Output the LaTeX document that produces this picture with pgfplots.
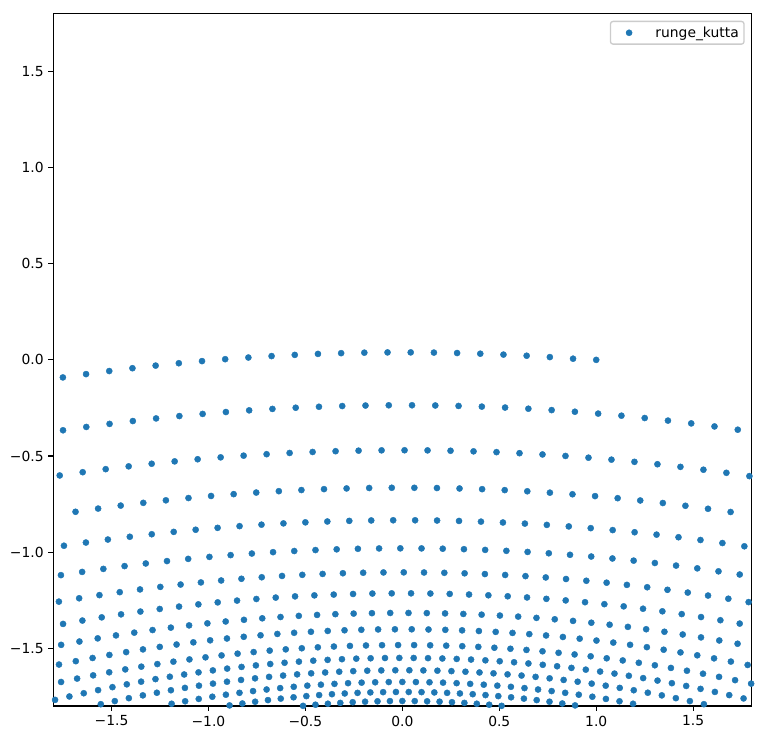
\documentclass[border=0pt]{standalone}
\usepackage{fontspec}
\setmainfont{DejaVu Sans}
\usepackage{pgfplots}
\pgfplotsset{compat=1.18}
\definecolor{tabblue}{HTML}{1F77B4}
\begin{document}
\fontsize{10.4pt}{12.5pt}\selectfont
\begin{tikzpicture}
\path[use as bounding box] (0,0) rectangle (573pt,555pt);
\begin{axis}[
  at={(40pt,25.5pt)}, anchor=south west,
  scale only axis, width=523.5pt, height=519.2pt,
  xmin=-1.8, xmax=1.8, ymin=-1.8, ymax=1.8,
  axis line style={line width=0.83pt},
  tick align=outside, major tick length=3.65pt,
  tick style={line width=0.83pt, black},
  xtick pos=left, ytick pos=left,
  xtick={-1.5,-1,-0.5,0,0.5,1,1.5},
  xticklabels={−1.5,−1.0,−0.5,0.0,0.5,1.0,1.5},
  ytick={-1.5,-1,-0.5,0,0.5,1,1.5},
  yticklabels={−1.5,−1.0,−0.5,0.0,0.5,1.0,1.5},
  ticklabel style={font=\fontsize{10.4pt}{12pt}\selectfont},
  legend style={at={(1,1)}, anchor=north east, xshift=-4.95pt, yshift=-5.25pt,
    draw=black!20, line width=1pt, rounded corners=2pt,
    inner xsep=0pt, inner ysep=0pt,
    nodes={inner xsep=0pt, inner ysep=3.8pt},
    font=\fontsize{10.4pt}{12pt}\selectfont},
  legend cell align=left,
  legend image code/.code={\path[draw=none,fill=none] (0pt,-1pt) rectangle (33.75pt,1pt); \draw[#1, only marks] plot coordinates {(14pt,0pt)};},
]
\addplot[only marks, mark=*, mark size=2.3pt, color=tabblue, mark options={line width=0.3pt}] coordinates {
(1.0000,0.0000) (0.8804,0.0061) (0.7608,0.0144) (0.6412,0.0215) (0.5216,0.0274) (0.4020,0.0321) (0.2824,0.0356) (0.1628,0.0379) (0.0432,0.0389) (-0.0764,0.0388) (-0.1960,0.0374) (-0.3156,0.0348) (-0.4352,0.0310) (-0.5548,0.0259) (-0.6744,0.0197) (-0.7940,0.0122) (-0.9136,0.0035) (-1.0332,-0.0064) (-1.1528,-0.0175) (-1.2724,-0.0298) (-1.3920,-0.0434) (-1.5116,-0.0581) (-1.6312,-0.0741) (-1.7508,-0.0913)
(1.73,-0.3632) (1.61,-0.3462) (1.49,-0.3304) (1.37,-0.3158) (1.25,-0.3024) (1.13,-0.2903) (1.01,-0.2794) (0.89,-0.2697) (0.77,-0.2612) (0.65,-0.2540) (0.53,-0.2479) (0.41,-0.2431) (0.29,-0.2396) (0.17,-0.2372) (0.05,-0.2361) (-0.07,-0.2362) (-0.19,-0.2375) (-0.31,-0.2401) (-0.43,-0.2439) (-0.55,-0.2489) (-0.67,-0.2551) (-0.79,-0.2625) (-0.91,-0.2712) (-1.03,-0.2811) (-1.15,-0.2922) (-1.27,-0.3045) (-1.39,-0.3181) (-1.51,-0.3329) (-1.63,-0.3489) (-1.75,-0.3662)
(1.7900,-0.6046) (1.6714,-0.5873) (1.5529,-0.5713) (1.4343,-0.5564) (1.3157,-0.5427) (1.1972,-0.5302) (1.0786,-0.5189) (0.9600,-0.5087) (0.8414,-0.4997) (0.7229,-0.4919) (0.6043,-0.4853) (0.4857,-0.4799) (0.3672,-0.4757) (0.2486,-0.4726) (0.1300,-0.4707) (0.0114,-0.4700) (-0.1071,-0.4705) (-0.2257,-0.4721) (-0.3443,-0.4750) (-0.4628,-0.4790) (-0.5814,-0.4842) (-0.7000,-0.4906) (-0.8186,-0.4981) (-0.9371,-0.5069) (-1.0557,-0.5168) (-1.1743,-0.5279) (-1.2928,-0.5402) (-1.4114,-0.5537) (-1.5300,-0.5683) (-1.6486,-0.5842) (-1.7671,-0.6011)
(1.6930,-0.7911) (1.5765,-0.7744) (1.4600,-0.7588) (1.3435,-0.7444) (1.2270,-0.7312) (1.1105,-0.7193) (0.9940,-0.7085) (0.8775,-0.6989) (0.7610,-0.6905) (0.6445,-0.6833) (0.5280,-0.6773) (0.4115,-0.6724) (0.2950,-0.6688) (0.1785,-0.6664) (0.0620,-0.6652) (-0.0545,-0.6651) (-0.1710,-0.6663) (-0.2875,-0.6686) (-0.4040,-0.6722) (-0.5205,-0.6769) (-0.6370,-0.6829) (-0.7535,-0.6900) (-0.8700,-0.6983) (-0.9865,-0.7078) (-1.1030,-0.7185) (-1.2195,-0.7304) (-1.3360,-0.7435) (-1.4525,-0.7578) (-1.5690,-0.7733) (-1.6855,-0.7900) (-1.8020,-0.8079)
(1.7640,-0.9694) (1.6508,-0.9525) (1.5376,-0.9368) (1.4244,-0.9223) (1.3112,-0.9088) (1.1980,-0.8964) (1.0848,-0.8852) (0.9716,-0.8751) (0.8584,-0.8661) (0.7452,-0.8582) (0.6320,-0.8514) (0.5188,-0.8457) (0.4056,-0.8412) (0.2924,-0.8377) (0.1792,-0.8354) (0.0660,-0.8342) (-0.0472,-0.8341) (-0.1604,-0.8351) (-0.2736,-0.8373) (-0.3868,-0.8405) (-0.5000,-0.8449) (-0.6132,-0.8504) (-0.7264,-0.8570) (-0.8396,-0.8647) (-0.9528,-0.8735) (-1.0660,-0.8834) (-1.1792,-0.8945) (-1.2924,-0.9067) (-1.4056,-0.9199) (-1.5188,-0.9343) (-1.6320,-0.9499) (-1.7452,-0.9665)
(1.7400,-1.1162) (1.6306,-1.0997) (1.5212,-1.0841) (1.4118,-1.0697) (1.3024,-1.0563) (1.1930,-1.0440) (1.0836,-1.0328) (0.9742,-1.0227) (0.8648,-1.0137) (0.7554,-1.0057) (0.6460,-0.9988) (0.5366,-0.9930) (0.4272,-0.9882) (0.3178,-0.9845) (0.2084,-0.9820) (0.0990,-0.9804) (-0.0104,-0.9800) (-0.1198,-0.9806) (-0.2292,-0.9824) (-0.3386,-0.9852) (-0.4480,-0.9890) (-0.5574,-0.9940) (-0.6668,-1.0000) (-0.7762,-1.0071) (-0.8856,-1.0153) (-0.9950,-1.0246) (-1.1044,-1.0349) (-1.2138,-1.0463) (-1.3232,-1.0588) (-1.4326,-1.0724) (-1.5420,-1.0870) (-1.6514,-1.1027) (-1.7608,-1.1195)
(1.7860,-1.2597) (1.6814,-1.2421) (1.5767,-1.2256) (1.4721,-1.2101) (1.3675,-1.1957) (1.2629,-1.1824) (1.1582,-1.1701) (1.0536,-1.1588) (0.9490,-1.1487) (0.8443,-1.1396) (0.7397,-1.1315) (0.6351,-1.1246) (0.5304,-1.1186) (0.4258,-1.1138) (0.3212,-1.1100) (0.2166,-1.1073) (0.1119,-1.1056) (0.0073,-1.1050) (-0.0973,-1.1055) (-0.2020,-1.1070) (-0.3066,-1.1096) (-0.4112,-1.1132) (-0.5159,-1.1179) (-0.6205,-1.1237) (-0.7251,-1.1305) (-0.8298,-1.1384) (-0.9344,-1.1473) (-1.0390,-1.1574) (-1.1436,-1.1684) (-1.2483,-1.1806) (-1.3529,-1.1938) (-1.4575,-1.2080) (-1.5622,-1.2234) (-1.6668,-1.2397) (-1.7714,-1.2572)
(1.7400,-1.3714) (1.6403,-1.3539) (1.5406,-1.3374) (1.4409,-1.3220) (1.3412,-1.3075) (1.2414,-1.2941) (1.1417,-1.2818) (1.0420,-1.2705) (0.9423,-1.2602) (0.8426,-1.2509) (0.7429,-1.2427) (0.6432,-1.2355) (0.5435,-1.2294) (0.4438,-1.2242) (0.3441,-1.2202) (0.2443,-1.2171) (0.1446,-1.2151) (0.0449,-1.2141) (-0.0548,-1.2142) (-0.1545,-1.2152) (-0.2542,-1.2174) (-0.3539,-1.2205) (-0.4536,-1.2247) (-0.5533,-1.2299) (-0.6530,-1.2362) (-0.7528,-1.2435) (-0.8525,-1.2518) (-0.9522,-1.2611) (-1.0519,-1.2715) (-1.1516,-1.2830) (-1.2513,-1.2954) (-1.3510,-1.3089) (-1.4507,-1.3234) (-1.5504,-1.3390) (-1.6501,-1.3556) (-1.7499,-1.3732)
(1.7290,-1.4762) (1.6347,-1.4592) (1.5404,-1.4432) (1.4461,-1.4281) (1.3518,-1.4139) (1.2576,-1.4008) (1.1633,-1.3885) (1.0690,-1.3773) (0.9747,-1.3669) (0.8804,-1.3575) (0.7861,-1.3491) (0.6918,-1.3417) (0.5975,-1.3351) (0.5032,-1.3296) (0.4089,-1.3250) (0.3146,-1.3213) (0.2204,-1.3186) (0.1261,-1.3169) (0.0318,-1.3161) (-0.0625,-1.3162) (-0.1568,-1.3173) (-0.2511,-1.3194) (-0.3454,-1.3224) (-0.4397,-1.3264) (-0.5340,-1.3313) (-0.6283,-1.3372) (-0.7225,-1.3440) (-0.8168,-1.3518) (-0.9111,-1.3605) (-1.0054,-1.3702) (-1.0997,-1.3808) (-1.1940,-1.3924) (-1.2883,-1.4050) (-1.3826,-1.4185) (-1.4769,-1.4329) (-1.5712,-1.4483) (-1.6654,-1.4647) (-1.7597,-1.4820)
(1.7810,-1.5866) (1.6944,-1.5690) (1.6077,-1.5522) (1.5211,-1.5364) (1.4345,-1.5214) (1.3478,-1.5073) (1.2612,-1.4941) (1.1746,-1.4817) (1.0880,-1.4702) (1.0013,-1.4597) (0.9147,-1.4499) (0.8281,-1.4411) (0.7414,-1.4332) (0.6548,-1.4261) (0.5682,-1.4199) (0.4815,-1.4146) (0.3949,-1.4101) (0.3083,-1.4066) (0.2217,-1.4039) (0.1350,-1.4021) (0.0484,-1.4011) (-0.0382,-1.4011) (-0.1249,-1.4019) (-0.2115,-1.4036) (-0.2981,-1.4062) (-0.3848,-1.4097) (-0.4714,-1.4140) (-0.5580,-1.4192) (-0.6446,-1.4253) (-0.7313,-1.4323) (-0.8179,-1.4401) (-0.9045,-1.4489) (-0.9912,-1.4585) (-1.0778,-1.4690) (-1.1644,-1.4803) (-1.2511,-1.4926) (-1.3377,-1.5057) (-1.4243,-1.5197) (-1.5109,-1.5345) (-1.5976,-1.5503) (-1.6842,-1.5669) (-1.7708,-1.5844)
(1.7990,-1.6837) (1.7162,-1.6656) (1.6335,-1.6484) (1.5507,-1.6321) (1.4679,-1.6166) (1.3852,-1.6020) (1.3024,-1.5882) (1.2196,-1.5752) (1.1368,-1.5631) (1.0541,-1.5519) (0.9713,-1.5415) (0.8885,-1.5319) (0.8058,-1.5233) (0.7230,-1.5154) (0.6402,-1.5084) (0.5575,-1.5023) (0.4747,-1.4970) (0.3919,-1.4925) (0.3091,-1.4889) (0.2264,-1.4862) (0.1436,-1.4843) (0.0608,-1.4832) (-0.0219,-1.4830) (-0.1047,-1.4837) (-0.1875,-1.4852) (-0.2702,-1.4875) (-0.3530,-1.4907) (-0.4358,-1.4948) (-0.5186,-1.4997) (-0.6013,-1.5054) (-0.6841,-1.5120) (-0.7669,-1.5195) (-0.8496,-1.5278) (-0.9324,-1.5369) (-1.0152,-1.5469) (-1.0980,-1.5577) (-1.1807,-1.5694) (-1.2635,-1.5820) (-1.3463,-1.5954) (-1.4290,-1.6096) (-1.5118,-1.6247) (-1.5946,-1.6406) (-1.6773,-1.6574) (-1.7601,-1.6751)
(1.7600,-1.7606) (1.6860,-1.7433) (1.6120,-1.7267) (1.5381,-1.7109) (1.4641,-1.6958) (1.3901,-1.6814) (1.3161,-1.6678) (1.2421,-1.6549) (1.1682,-1.6428) (1.0942,-1.6314) (1.0202,-1.6208) (0.9462,-1.6109) (0.8722,-1.6017) (0.7983,-1.5933) (0.7243,-1.5857) (0.6503,-1.5788) (0.5763,-1.5726) (0.5023,-1.5672) (0.4284,-1.5625) (0.3544,-1.5585) (0.2804,-1.5553) (0.2064,-1.5529) (0.1324,-1.5512) (0.0585,-1.5502) (-0.0155,-1.5500) (-0.0895,-1.5505) (-0.1635,-1.5518) (-0.2375,-1.5538) (-0.3114,-1.5566) (-0.3854,-1.5601) (-0.4594,-1.5643) (-0.5334,-1.5693) (-0.6074,-1.5751) (-0.6813,-1.5816) (-0.7553,-1.5888) (-0.8293,-1.5968) (-0.9033,-1.6055) (-0.9773,-1.6149) (-1.0512,-1.6251) (-1.1252,-1.6361) (-1.1992,-1.6478) (-1.2732,-1.6602) (-1.3472,-1.6734) (-1.4211,-1.6873) (-1.4951,-1.7020) (-1.5691,-1.7174) (-1.6431,-1.7336) (-1.7171,-1.7505) (-1.7910,-1.7681)
(1.7000,-1.8250) (1.6277,-1.8074) (1.5553,-1.7906) (1.4830,-1.7745) (1.4106,-1.7593) (1.3383,-1.7447) (1.2660,-1.7310) (1.1936,-1.7180) (1.1213,-1.7058) (1.0489,-1.6943) (0.9766,-1.6836) (0.9043,-1.6737) (0.8319,-1.6645) (0.7596,-1.6561) (0.6872,-1.6485) (0.6149,-1.6416) (0.5426,-1.6355) (0.4702,-1.6301) (0.3979,-1.6256) (0.3255,-1.6217) (0.2532,-1.6187) (0.1809,-1.6164) (0.1085,-1.6149) (0.0362,-1.6141) (-0.0362,-1.6141) (-0.1085,-1.6149) (-0.1809,-1.6164) (-0.2532,-1.6187) (-0.3255,-1.6217) (-0.3979,-1.6256) (-0.4702,-1.6301) (-0.5426,-1.6355) (-0.6149,-1.6416) (-0.6872,-1.6485) (-0.7596,-1.6561) (-0.8319,-1.6645) (-0.9043,-1.6737) (-0.9766,-1.6836) (-1.0489,-1.6943) (-1.1213,-1.7058) (-1.1936,-1.7180) (-1.2660,-1.7310) (-1.3383,-1.7447) (-1.4106,-1.7593) (-1.4830,-1.7745) (-1.5553,-1.7906) (-1.6277,-1.8074) (-1.7000,-1.8250)
(1.40,-1.8318) (1.33,-1.8165) (1.26,-1.8020) (1.19,-1.7883) (1.12,-1.7754) (1.05,-1.7632) (0.98,-1.7518) (0.91,-1.7412) (0.84,-1.7314) (0.77,-1.7224) (0.70,-1.7142) (0.63,-1.7068) (0.56,-1.7001) (0.49,-1.6942) (0.42,-1.6891) (0.35,-1.6848) (0.28,-1.6813) (0.21,-1.6785) (0.14,-1.6766) (0.07,-1.6754) (0.00,-1.6750) (-0.07,-1.6754) (-0.14,-1.6766) (-0.21,-1.6785) (-0.28,-1.6813) (-0.35,-1.6848) (-0.42,-1.6891) (-0.49,-1.6942) (-0.56,-1.7001) (-0.63,-1.7068) (-0.70,-1.7142) (-0.77,-1.7224) (-0.84,-1.7314) (-0.91,-1.7412) (-0.98,-1.7518) (-1.05,-1.7632) (-1.12,-1.7754) (-1.19,-1.7883) (-1.26,-1.8020) (-1.33,-1.8165) (-1.40,-1.8318)
(1.089,-1.8314) (1.023,-1.8191) (0.957,-1.8076) (0.891,-1.7969) (0.825,-1.7869) (0.759,-1.7777) (0.693,-1.7693) (0.627,-1.7616) (0.561,-1.7547) (0.495,-1.7486) (0.429,-1.7432) (0.363,-1.7386) (0.297,-1.7348) (0.231,-1.7317) (0.165,-1.7294) (0.099,-1.7279) (0.033,-1.7271) (-0.033,-1.7271) (-0.099,-1.7279) (-0.165,-1.7294) (-0.231,-1.7317) (-0.297,-1.7348) (-0.363,-1.7386) (-0.429,-1.7432) (-0.495,-1.7486) (-0.561,-1.7547) (-0.627,-1.7616) (-0.693,-1.7693) (-0.759,-1.7777) (-0.825,-1.7869) (-0.891,-1.7969) (-0.957,-1.8076) (-1.023,-1.8191) (-1.089,-1.8314)
(0.768,-1.8306) (0.704,-1.8216) (0.640,-1.8133) (0.576,-1.8059) (0.512,-1.7992) (0.448,-1.7933) (0.384,-1.7882) (0.320,-1.7838) (0.256,-1.7803) (0.192,-1.7775) (0.128,-1.7756) (0.064,-1.7744) (0.000,-1.7740) (-0.064,-1.7744) (-0.128,-1.7756) (-0.192,-1.7775) (-0.256,-1.7803) (-0.320,-1.7838) (-0.384,-1.7882) (-0.448,-1.7933) (-0.512,-1.7992) (-0.576,-1.8059) (-0.640,-1.8133) (-0.704,-1.8216) (-0.768,-1.8306)
};
\addlegendentry{runge\_kutta\hspace*{4pt}}
\end{axis}
\end{tikzpicture}
\end{document}
